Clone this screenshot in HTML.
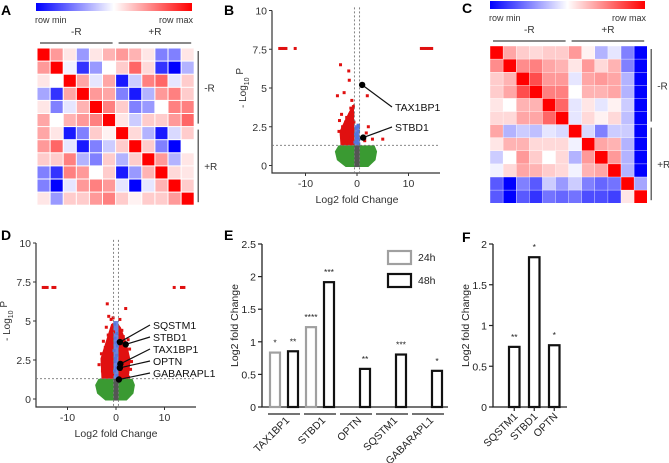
<!DOCTYPE html>
<html><head><meta charset="utf-8"><style>
body{margin:0;background:#fff}
svg{display:block;font-family:"Liberation Sans",Arial,sans-serif}
</style></head><body>
<svg id="fig" width="669" height="463" viewBox="0 0 669 463" xmlns="http://www.w3.org/2000/svg">
<defs><linearGradient id="cb" x1="0" x2="1"><stop offset="0" stop-color="#0000ff"/><stop offset="0.5" stop-color="#ffffff"/><stop offset="1" stop-color="#ff0000"/></linearGradient></defs>
<g font-weight="bold" font-size="14">
<text x="1" y="15">A</text>
<text x="224" y="15">B</text>
<text x="462" y="13">C</text>
<text x="1" y="240">D</text>
<text x="224" y="240">E</text>
<text x="462" y="242">F</text>
</g>
<g id="A"></g>
<g id="C"></g>
<g id="B"></g>
<g id="D"></g>
<g id="E"></g>
<g id="F"></g>
</svg>
<script>
const heatA = [
[1,.4,.1,-.4,.1,.3,.4,.3,.1,-.5,-.5,.1],
[.4,1,-.05,-.8,-.4,0,.2,.6,.15,-.8,-1,-.3],
[.1,0,1,.35,-.1,.35,-.9,-.2,.5,.6,-.1,.2],
[-.35,-.8,.35,1,.4,.35,-.5,-.9,-.3,.4,.5,.2],
[.1,-.5,-.1,.3,1,.5,.2,-.5,-.4,0,.5,.5],
[.35,0,.3,.4,.5,1,.1,-.2,.2,.2,.4,.6],
[.35,.1,-.9,-.5,.2,.05,1,.15,-.3,-.9,-.15,.2],
[.4,.6,-.1,-.9,-.5,-.2,.2,1,.2,-.5,-1,0],
[.2,.2,.5,-.3,-.5,.2,-.3,.2,1,.4,-.3,.1],
[-.5,-.8,.5,.4,0,.2,-.9,-.4,.3,1,.15,.1],
[-.5,-1,-.1,.4,.5,.4,-.1,-1,-.1,.3,1,.2],
[.1,-.4,.2,.2,.4,.5,.2,.05,.2,.2,.4,1]];
const heatC = [
[1,.35,.2,.15,.2,.2,.4,.05,-.3,-.1,-.5,-1],
[.45,1,.45,.5,.35,.3,.1,.4,.15,.3,-.5,-1],
[.2,.3,1,.7,.4,.4,-.1,.35,.4,.35,-.3,-1],
[.2,.35,.7,1,.5,.5,0,.3,.3,.35,-.3,-1],
[.1,0,.3,.3,1,.6,-.1,.1,-.1,.05,-.2,-1],
[.15,.15,.35,.35,.6,1,-.1,.15,.05,.15,-.25,-1],
[.35,-.3,-.2,-.25,-.1,-.15,1,-.15,-.5,-.2,-.2,-1],
[.1,.3,.3,.15,.15,.15,-.05,1,.35,.3,-.3,-1],
[-.2,0,.4,.2,0,.15,-.3,.4,1,.4,-.3,-1],
[-.05,.15,.35,.3,.2,.15,-.05,.3,.35,1,-.3,-1],
[-.65,-1,-.5,-.65,-.2,-.4,-.2,-.5,-.6,-.55,1,-.35],
[-.65,-1,-.65,-.8,-.55,-.6,-.55,-.7,-.7,-.75,.1,1]];

const volcB_red = [[-15,7.55],[-14.6,7.55],[-14.2,7.55],[-13.8,7.55],[-12,7.55],[12.5,7.55],[13,7.55],[13.5,7.55],[14,7.55],[14.5,7.55],
[-3.2,6.5],[-1.6,6.1],[-3.8,4.5],[-1.5,5.5],[-2.5,4.7],[2,4.5],[-1,4.2],[-0.7,3.8],[-1.2,3.7],[-0.9,3.6],[-3,3.3],[-2,3.1],[-3.4,2.9],[-2.2,2.8],[-1.5,2.7],[-2.8,2.5],[-1.3,2.5],[-0.8,2.3],[-2,2.2],[-1.1,2.0],[-2.5,1.9],[-1.7,1.8],[-0.9,1.6],[-1.5,1.5],[-2.2,1.45],[-0.7,1.4],[2.2,2.5],[1.8,2.1],[5,1.7],[3,1.7],[1.5,1.6],[-1,3],[-0.6,2.8],[-1.8,2.4],[-0.6,2],[-1.3,1.7],[-3.5,2.2],[-2.6,1.6],[-0.8,3.3],[-1.4,3.3]];
const volcB_blue = [[0.2,2.6],[-0.2,2.4],[0.3,2.2],[-0.3,2.0],[0.1,1.9],[0.4,1.7],[-0.1,1.6],[0.2,1.45],[-0.4,1.5],[0.3,2.5],[0,2.1],[-0.1,1.8],[0.35,1.4]];
const volcB_genes = ["TAX1BP1","STBD1"];
const volcB_gx = [1,1.2];
const volcB_gy = [5.2,1.8];

const volcD_red = [[-15,7.15],[-14.6,7.15],[-14.2,7.15],[-13,7.15],[-12.6,7.15],[12,7.15],[13.5,7.15],[14,7.15],
[-1.8,6.1],[2,5.8],[-1.5,5.3],[-0.6,5.2],[-1,5.1],[0.8,5.1],[-2,4.6],[1.2,4.4],[-0.5,4.3],[-1.6,4.1],[1.5,4],[-2.6,3.7],[2.5,3.8],[-2.2,3.3],[2.8,3.2],[-3,2.9],[3.2,2.4],[-3.5,2.2],[-2.8,1.8],[2.4,1.7],[3,1.9],[-1.4,3.6],[1.8,3.1],[-0.8,3.0],[0.9,2.8],[-2.3,2.6],[2,2.5],[-1.2,2.3],[1.4,2.1],[-1.9,1.9],[-0.7,1.6],[1.1,1.5],[-2.5,1.45],[2.6,1.4]];
const volcD_blue = [[-0.3,4.8],[0.2,4.2],[-0.2,3.9],[0.3,3.4],[-0.4,3.1],[0.1,2.8],[-0.2,2.4],[0.3,2.1],[-0.3,1.8],[0.2,1.5],[0,3.6],[-0.1,2.6],[0.1,2.0]];
const volcD_genes = ["SQSTM1","STBD1","TAX1BP1","OPTN","GABARAPL1"];
const volcD_gx = [0.8,2,0.9,0.8,0.6];
const volcD_gy = [3.65,3.5,2.25,2.0,1.25];

const barE_cats = ["TAX1BP1","STBD1","OPTN","SQSTM1","GABARAPL1"];
const barE_24h = [0.85,1.24,null,null,null];
const barE_48h = [0.87,1.93,0.6,0.82,0.57];
const barE_sig24 = ["*","****","","",""];
const barE_sig48 = ["**","***","**","***","*"];
const barE_ticks = [0,0.5,1,1.5,2,2.5];
const barE_tickLabels = ["0","0.5","1","1.5","2","2.5"];

const barF_cats = ["SQSTM1","STBD1","OPTN"];
const barF_vals = [0.75,1.85,0.77];
const barF_sig = ["**","*","*"];
const barF_ticks = [0,0.5,1,1.5,2];
const barF_tickLabels = ["0","0.5","1","1.5","2"];

const NS="http://www.w3.org/2000/svg";
function mk(parent,tag,attrs,text){const e=document.createElementNS(NS,tag);for(const k in attrs)e.setAttribute(k,attrs[k]);if(text!=null)e.textContent=text;parent.appendChild(e);return e;}
function col(v){if(v>=0){const c=Math.round(255*(1-v));return `rgb(255,${c},${c})`;}const c=Math.round(255*(1+v));return `rgb(${c},${c},255)`;}

function heat(gid,data,x0,y0,cell,cbX,cbY,cbW,gap){
 const g=document.getElementById(gid);
 const cb=mk(g,'rect',{x:cbX,y:cbY,width:cbW,height:8,fill:'url(#cb)'});
 
 
 const t1=mk(g,'text',{x:cbX-1,y:cbY+20,'font-size':9,fill:'#333'},'row min');
 
 
 const t2=mk(g,'text',{x:cbX+cbW+1,y:cbY+20,'font-size':9,fill:'#333','text-anchor':'end'},'row max');
 
 
 const n=data.length,W=n*cell;
 [['-R',0],['+R',1]].forEach(([lab,i])=>{
  const xs=x0+i*W/2;
  const l=mk(g,'line',{x1:xs+3,x2:xs+W/2-3,y1:y0-5,y2:y0-5,stroke:'#444','stroke-width':1.2});
  
  
  const t=mk(g,'text',{x:xs+W/4,y:y0-13,'font-size':10,'text-anchor':'middle',fill:'#333'},lab);
  
  
  const bl=mk(g,'line',{x1:x0+W+4,x2:x0+W+4,y1:y0+i*W/2+3,y2:y0+(i+1)*W/2-3,stroke:'#444','stroke-width':1.2});
  
  
  const rt=mk(g,'text',{x:x0+W+10,y:y0+i*W/2+W/4+4,'font-size':10,fill:'#333'},lab);
  
  
 });
 data.forEach((row,r)=>row.forEach((v,c)=>{
  const e=mk(g,'rect',{x:x0+c*cell+gap/2,y:y0+r*cell+gap/2,width:cell-gap,height:cell-gap,fill:col(v)});
  
  
 }));
}
heat('A',heatA,37,48,13.1,36,3,156,1);
heat('C',heatC,490,46,13.1,490,1,155,0.4);

function volcano(gid,o,red,blue,genes,gx,gy,labY){
 const g=document.getElementById(gid);
 const X=v=>o.x0+(v)*o.sx, Y=v=>o.y0-v*o.sy;
 const ax=mk(g,'path',{d:`M${o.ax},${Y(10)}V${o.yAxis}H${o.axEnd}`,fill:'none',stroke:'#333','stroke-width':1.2});
 
 
 [0,2.5,5,7.5,10].forEach(t=>{
  mk(g,'line',{x1:o.ax-3,x2:o.ax,y1:Y(t),y2:Y(t),stroke:'#333'});
  const tl=mk(g,'text',{x:o.ax-5,y:Y(t)+4,'font-size':10.5,'text-anchor':'end',fill:'#333'},String(t));
  
  
 });
 [-10,0,10].forEach(t=>{
  mk(g,'line',{x1:X(t),x2:X(t),y1:o.yAxis,y2:o.yAxis+3,stroke:'#333'});
  const tl=mk(g,'text',{x:X(t),y:o.yAxis+14,'font-size':10.5,'text-anchor':'middle',fill:'#333'},String(t));
  
  
 });
 const xt=mk(g,'text',{x:X(0),y:o.yAxis+30,'font-size':10.5,'text-anchor':'middle',fill:'#333'},'Log2 fold Change');
 
 
 const yt=mk(g,'text',{transform:`translate(${o.ax-26},${Y(5)}) rotate(-90)`,'font-size':10,'text-anchor':'middle',fill:'#333'});
 yt.innerHTML='- Log<tspan font-size="7" dy="3">10</tspan><tspan dy="-6"> P</tspan>';
 
 
 // green cloud (non-significant region)
 const cl=mk(g,'path',{d:`M${X(-3.6)},${Y(1.3)}L${X(3.4)},${Y(1.3)}L${X(3.9)},${Y(0.9)}L${X(3.6)},${Y(0.35)}L${X(2.2)},${Y(-0.1)}L${X(-2.2)},${Y(-0.1)}L${X(-3.9)},${Y(0.35)}L${X(-4.3)},${Y(0.9)}Z`,fill:'#3a9a32'});
 
 
 const gr=mk(g,'rect',{x:X(-0.5),y:Y(1.3),width:X(0.5)-X(-0.5),height:Y(-0.1)-Y(1.3),fill:'#555'});
 
 
 // dense red region
 const rb=mk(g,'path',{d:o.redBlob.map((p,i)=>(i?'L':'M')+X(p[0])+','+Y(p[1])).join('')+'Z',fill:'#e01010'});
 
 
 const bb=mk(g,'rect',{x:X(-0.5),y:Y(o.blueTop),width:X(0.5)-X(-0.5),height:Y(1.3)-Y(o.blueTop),fill:'#6a86e0'});
 
 
 red.forEach(([a,b])=>{const p=mk(g,'rect',{x:X(a)-1.5,y:Y(b)-1.5,width:3,height:3,fill:'#e01010'});
  
  });
 blue.forEach(([a,b])=>{const p=mk(g,'rect',{x:X(a)-1.5,y:Y(b)-1.5,width:3,height:3,fill:'#5577dd'});
  
  });
 [-0.5,0.5].forEach(v=>mk(g,'line',{x1:X(v),x2:X(v),y1:Y(10.2),y2:o.yAxis,stroke:'#777','stroke-dasharray':'2,2','stroke-width':0.9}));
 mk(g,'line',{x1:o.ax,x2:o.axEnd,y1:Y(1.3),y2:Y(1.3),stroke:'#777','stroke-dasharray':'2,2','stroke-width':0.9});
 genes.forEach((name,i)=>{
  const px=X(gx[i]),py=Y(gy[i]);
  mk(g,'line',{x1:px,y1:py,x2:o.labX-3,y2:labY[i]-3,stroke:'#111','stroke-width':1.2});
  const d=mk(g,'circle',{cx:px,cy:py,r:3.2,fill:'#000'});
  
  
  const t=mk(g,'text',{x:o.labX,y:labY[i]+1,'font-size':10.5,fill:'#111'},name);
  
  
 });
}
volcano('B',{x0:357,sx:5.15,y0:165.5,sy:15.5,ax:272,yAxis:173,axEnd:440,labX:395,blueTop:2.6,
 redBlob:[[-3.2,1.3],[-3.4,2.2],[-2.4,2.9],[-1.5,3.5],[-0.6,4],[-0.5,1.3]]},volcB_red,volcB_blue,volcB_genes,volcB_gx,volcB_gy,[110,130]);
volcano('D',{x0:116,sx:4.85,y0:399,sy:15.6,ax:36,yAxis:407,axEnd:196,labX:153,blueTop:5,
 redBlob:[[-3,1.3],[-3.2,2.6],[-2,3.8],[-1,4.8],[0,5],[1,4.6],[2.2,3.6],[3,2.5],[2.6,1.3]]},volcD_red,volcD_blue,volcD_genes,volcD_gx,volcD_gy,[328,340,352,364,376]);

function bars(gid,o,cats,series,colors,sigs,ticks,tickLabels){
 const g=document.getElementById(gid);
 const Y=v=>o.y0-v*o.sy;
 const ax=mk(g,'path',{d:`M${o.ax},${Y(ticks[ticks.length-1])}V${o.y0}H${o.axEnd}`,fill:'none',stroke:'#222','stroke-width':1.3});
 
 
 ticks.forEach((t,i)=>{
  mk(g,'line',{x1:o.ax-4,x2:o.ax,y1:Y(t),y2:Y(t),stroke:'#222','stroke-width':1.2});
  const tl=mk(g,'text',{x:o.ax-6,y:Y(t)+4,'font-size':10.5,'text-anchor':'end',fill:'#222'},tickLabels[i]);
  
  
 });
 const yt=mk(g,'text',{transform:`translate(${o.ax-24},${Y(o.mid)}) rotate(-90)`,'font-size':10.5,'text-anchor':'middle',fill:'#222'},'Log2 fold Change');
 
 
 const ns=series.length;
 cats.forEach((c,i)=>{
  const gx=o.first+i*o.step;
  series.forEach((s,j)=>{
   const v=s[i]; if(v==null) return;
   const bx=gx+j*o.pair;
   const r=mk(g,'rect',{x:bx+1,y:Y(v)+1,width:o.bw-2,height:o.y0-Y(v)-1,fill:'#fff',stroke:colors[j],'stroke-width':2.2});
   
   
   const st=mk(g,'text',{x:bx+o.bw/2,y:Y(v)-6,'font-size':8.5,'text-anchor':'middle',fill:'#222'},sigs[j][i]);
   
   
  });
  const cx = o.under ? gx+(ns*o.pair-(o.pair-o.bw))/2 : gx+o.bw/2;
  if(o.under){
   const ul=mk(g,'line',{x1:gx-1,x2:gx+(ns-1)*o.pair+o.bw+1,y1:o.y0+7,y2:o.y0+7,stroke:'#222','stroke-width':1.3});
   
   
  } else {
   mk(g,'line',{x1:cx,x2:cx,y1:o.y0,y2:o.y0+4,stroke:'#222','stroke-width':1.2});
  }
  const tl=mk(g,'text',{transform:`translate(${cx+o.lblDx},${o.y0+o.lblDy}) rotate(-45)`,'font-size':10.5,'text-anchor':'end',fill:'#222'},c);
  
  
 });
}
bars('E',{y0:407,sy:65.2,ax:262,axEnd:448,first:269,step:36,pair:18,bw:12,mid:1.25,under:true,lblDx:6,lblDy:14},barE_cats,[barE_24h,barE_48h],['#a0a0a0','#111'],[barE_sig24,barE_sig48],barE_ticks,barE_tickLabels);
bars('F',{y0:407,sy:81.5,ax:493,axEnd:567,first:508,step:20,pair:0,bw:12.5,mid:1,under:false,lblDx:4,lblDy:10},barF_cats,[barF_vals],['#111'],[barF_sig],barF_ticks,barF_tickLabels);

// legend E
const gE=document.getElementById('E');
const lg=mk(gE,'g',{});


const l1=mk(lg,'rect',{x:388,y:251,width:23,height:13,fill:'#fff',stroke:'#a0a0a0','stroke-width':2.2});


mk(lg,'text',{x:418,y:261,'font-size':10.5,fill:'#222'},'24h');
const l2=mk(lg,'rect',{x:388,y:274,width:23,height:13,fill:'#fff',stroke:'#111','stroke-width':2.2});


mk(lg,'text',{x:418,y:284,'font-size':10.5,fill:'#222'},'48h');
</script>
</body></html>
